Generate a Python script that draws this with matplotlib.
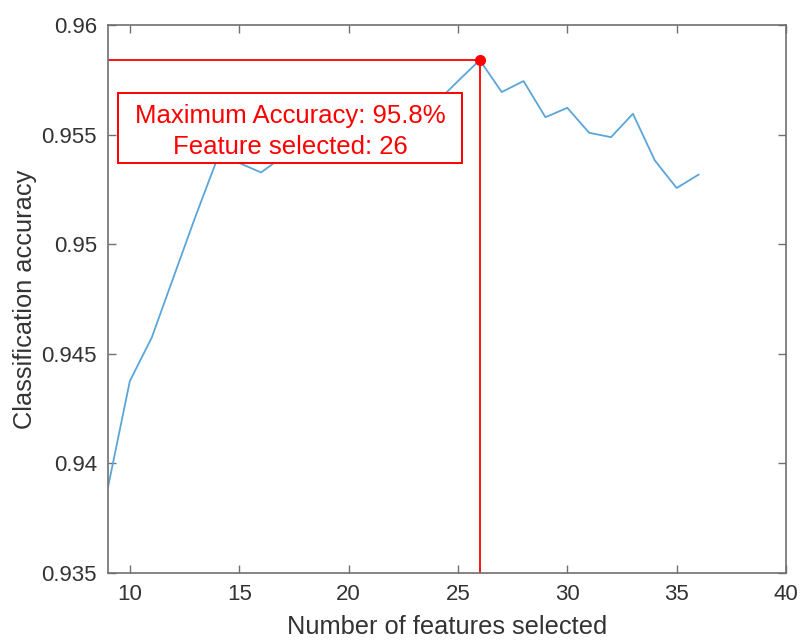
import numpy as np
import matplotlib
matplotlib.use('Agg')
import matplotlib.pyplot as plt
from matplotlib.patches import Rectangle
from matplotlib.ticker import FuncFormatter

plt.rcParams['font.family'] = ['Liberation Sans', 'DejaVu Sans']

# number of features vs. accuracy
n_features = list(range(9, 37))
accuracy = [0.9389, 0.94375, 0.94573, 0.9485, 0.95126, 0.9539, 0.9537, 0.95327,
            0.9540, 0.9545, 0.9550, 0.9553, 0.9556, 0.9559, 0.9562, 0.95645,
            0.95744, 0.9584, 0.95694, 0.95744, 0.95579, 0.95622, 0.95508, 0.95488,
            0.95595, 0.95382, 0.95256, 0.95317]

best_i = int(np.argmax(accuracy))
best_n = n_features[best_i]
best_acc = accuracy[best_i]

fig = plt.figure(figsize=(8.01, 6.41), dpi=100)
ax = fig.add_axes([0.1348, 0.1065, 0.8465, 0.8545])

ax.plot(n_features, accuracy, color='#5aa5da', lw=1.3)

# red guide lines to the maximum
ax.plot([9, best_n], [best_acc, best_acc], color='red', lw=1.3)
ax.plot([best_n, best_n], [0.935, best_acc], color='red', lw=1.3)
ax.plot(best_n, best_acc, 'o', color='red', ms=7, zorder=5)

# annotation box
ax.add_patch(Rectangle((9.45, 0.9537), 15.75, 0.00318, fc='white', ec='red',
                       lw=1.4, zorder=3))
ax.text(17.33, 0.95514,
        'Maximum Accuracy: %.1f%%\nFeature selected: %d' % (best_acc * 100, best_n),
        color='red', fontsize=18.5, ha='center', va='center', linespacing=1.4,
        zorder=4)

ax.set_xlim(9, 40)
ax.set_ylim(0.935, 0.96)
ax.set_xticks([10, 15, 20, 25, 30, 35, 40])
ax.set_yticks([0.935, 0.94, 0.945, 0.95, 0.955, 0.96])
ax.yaxis.set_major_formatter(FuncFormatter(lambda v, p: '%g' % round(v, 4)))

ax.tick_params(direction='in', top=True, right=True, length=6, width=1,
               color='#707070', labelcolor='#333333', labelsize=16, pad=8)
for s in ax.spines.values():
    s.set_color('#707070')
    s.set_linewidth(1.2)

ax.set_xlabel('Number of features selected', fontsize=18.3, color='#333333', labelpad=7)
ax.set_ylabel('Classification accuracy', fontsize=18.3, color='#333333', labelpad=3)

fig.savefig('out.png', dpi=100)
